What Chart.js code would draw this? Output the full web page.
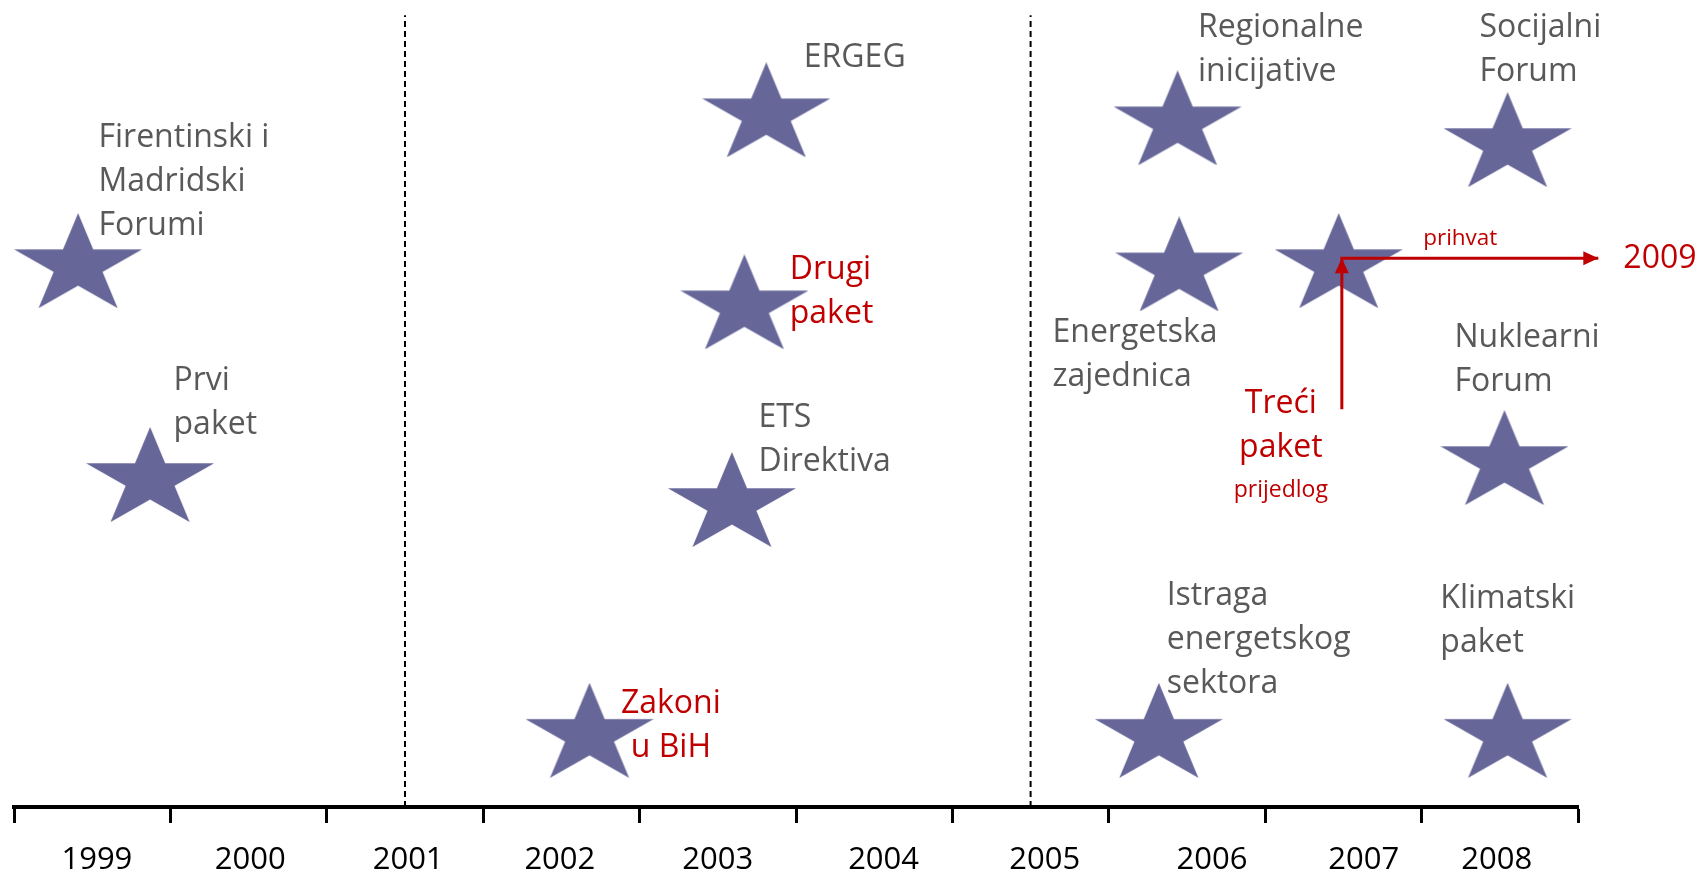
<!DOCTYPE html>
<html>
<head>
<meta charset="utf-8">
<title>Timeline</title>
<script src="https://cdn.jsdelivr.net/npm/chart.js@4.4.1/dist/chart.umd.min.js"></script>
<style>
  html, body { margin: 0; padding: 0; background: #fff; }
</style>
</head>
<body>
<canvas id="timeline" width="1701" height="875"></canvas>
<script>
const years = ['1999', '2000', '2001', '2002', '2003', '2004', '2005', '2006', '2007', '2008'];
// where each year label sits along the axis
const yearLabelPos = [1999.53, 2000.51, 2001.52, 2002.49, 2003.50, 2004.56, 2005.59, 2006.66, 2007.63, 2008.48];

// each event: a star (year, height on 0-100) and its label
const eventNames = ['Firentinski i\nMadridski\nForumi', 'Prvi\npaket', 'Zakoni\nu BiH', 'ETS\nDirektiva',
    'Drugi\npaket', 'ERGEG', 'Regionalne\ninicijative', 'Energetska\nzajednica',
    'Istraga\nenergetskog\nsektora', 'Treći\npaket', 'Socijalni\nForum', 'Nuklearni\nForum', 'Klimatski\npaket'];
const starX = [1999.41, 1999.87, 2002.68, 2003.59, 2003.67, 2003.81, 2006.44, 2006.45, 2006.32, 2007.47, 2008.55, 2008.53, 2008.55];
const starY = [67.7, 41.2, 9.5, 38.1, 62.6, 86.4, 85.4, 67.3, 9.5, 67.7, 82.7, 43.3, 9.5];
const labelX = [1999.54, 2000.02, 2003.20, 2003.76, 2003.96, 2004.05, 2006.57, 2005.64, 2006.37, 2007.10, 2008.37, 2008.21, 2008.12];
const labelY = [81.8, 51.7, 11.6, 47.1, 65.4, 91.7, 95.4, 57.6, 25.0, 48.8, 95.4, 57.0, 24.7];
const redEvents = ['Zakoni\nu BiH', 'Drugi\npaket', 'Treći\npaket'];
const centredEvents = ['Zakoni\nu BiH', 'Treći\npaket'];

// third package: proposal (2007) -> adoption (2009)
const arrowX = [2007.49, 2007.49, 2009.13];
const arrowY = [49.3, 68.0, 68.0];
const notes = ['prijedlog', 'prihvat', '2009'];
const noteX = [2007.10, 2008.01, 2009.29];
const noteY = [38.4, 69.6, 66.8];

// dashed period dividers
const dividerX = [2001.5, 2005.5];
const dividerTop = 98.1;

const RED = '#C00000';
const GREY = '#595959';

// star marker (wide, like the slide shape)
const starImg = document.createElement('canvas');
starImg.width = 128;
starImg.height = 95;
(function () {
    const c = starImg.getContext('2d');
    const sx = 128 / 1.902, sy = 95 / 1.809;
    c.fillStyle = '#666699';
    c.beginPath();
    for (let i = 0; i < 10; i++) {
        const a = -Math.PI / 2 + i * Math.PI / 5;
        const r = i % 2 === 0 ? 1 : 0.382;
        const px = 64 + Math.cos(a) * r * sx;
        const py = sy + Math.sin(a) * r * sy;
        if (i === 0) c.moveTo(px, py); else c.lineTo(px, py);
    }
    c.closePath();
    c.fill();
})();

function drawText(ctx, text, px, py, color, size, align, lineGap) {
    ctx.save();
    ctx.font = size + 'px "Open Sans"';
    ctx.fillStyle = color;
    ctx.textAlign = align;
    ctx.textBaseline = 'alphabetic';
    text.split('\n').forEach((line, k) => ctx.fillText(line, px, py + k * lineGap));
    ctx.restore();
}

const labelPlugin = {
    id: 'eventLabels',
    afterDatasetsDraw(chart) {
        const ctx = chart.ctx;
        const x = chart.scales.x, y = chart.scales.y;
        eventNames.forEach((name, i) => {
            drawText(ctx, name, x.getPixelForValue(labelX[i]), y.getPixelForValue(labelY[i]),
                redEvents.includes(name) ? RED : GREY, 32,
                centredEvents.includes(name) ? 'center' : 'left', 44);
        });
        drawText(ctx, notes[0], x.getPixelForValue(noteX[0]), y.getPixelForValue(noteY[0]), RED, 23, 'center', 0);
        drawText(ctx, notes[1], x.getPixelForValue(noteX[1]), y.getPixelForValue(noteY[1]), RED, 22.5, 'left', 0);
        drawText(ctx, notes[2], x.getPixelForValue(noteX[2]), y.getPixelForValue(noteY[2]), RED, 32, 'left', 0);

        // arrow heads
        const cx = x.getPixelForValue(arrowX[1]), cy = y.getPixelForValue(arrowY[1]);
        const ex = x.getPixelForValue(arrowX[2]), ey = y.getPixelForValue(arrowY[2]);
        ctx.save();
        ctx.fillStyle = RED;
        ctx.beginPath();
        ctx.moveTo(cx, cy);
        ctx.lineTo(cx - 7, cy + 15);
        ctx.lineTo(cx + 7, cy + 15);
        ctx.closePath();
        ctx.fill();
        ctx.beginPath();
        ctx.moveTo(ex, ey);
        ctx.lineTo(ex - 15, ey - 7);
        ctx.lineTo(ex - 15, ey + 7);
        ctx.closePath();
        ctx.fill();
        ctx.restore();
    }
};

const datasets = [
    {
        data: arrowX.map((v, i) => ({ x: v, y: arrowY[i] })),
        showLine: true,
        borderColor: RED,
        borderWidth: 3,
        pointRadius: 0,
        clip: false
    },
    {
        data: starX.map((v, i) => ({ x: v, y: starY[i] })),
        pointStyle: starImg,
        pointRadius: 10,
        clip: false
    }
];
dividerX.forEach(d => {
    datasets.push({
        data: [{ x: d, y: 0 }, { x: d, y: dividerTop }],
        showLine: true,
        borderColor: '#000',
        borderWidth: 2,
        borderDash: [6, 4],
        pointRadius: 0
    });
});

new Chart(document.getElementById('timeline'), {
    type: 'scatter',
    data: { datasets: datasets },
    options: {
        responsive: false,
        animation: false,
        events: [],
        layout: { autoPadding: false, padding: { left: 13, right: 123, top: 0, bottom: 0 } },
        plugins: { legend: { display: false }, tooltip: { enabled: false } },
        scales: {
            x: {
                type: 'linear',
                min: 1999,
                max: 2009,
                afterBuildTicks: scale => {
                    const t = [];
                    for (let i = 0; i <= 10; i++) t.push({ value: 1999 + i });
                    yearLabelPos.forEach(v => t.push({ value: v }));
                    t.sort((a, b) => a.value - b.value);
                    scale.ticks = t;
                },
                afterFit: scale => { scale.height = 68; },
                ticks: {
                    autoSkip: false,
                    maxRotation: 0,
                    padding: 14,
                    color: '#000',
                    font: { family: 'Open Sans', size: 31, lineHeight: 1.5 },
                    callback: value => {
                        const k = yearLabelPos.indexOf(value);
                        return k < 0 ? '' : years[k];
                    }
                },
                grid: {
                    drawOnChartArea: false,
                    tickLength: 16,
                    tickWidth: 3,
                    tickColor: c => Number.isInteger(c.tick.value) ? '#000' : 'rgba(0,0,0,0)'
                },
                border: { display: true, color: '#000', width: 4 }
            },
            y: { display: false, min: 0, max: 100 }
        }
    },
    plugins: [labelPlugin]
});
</script>
</body>
</html>
